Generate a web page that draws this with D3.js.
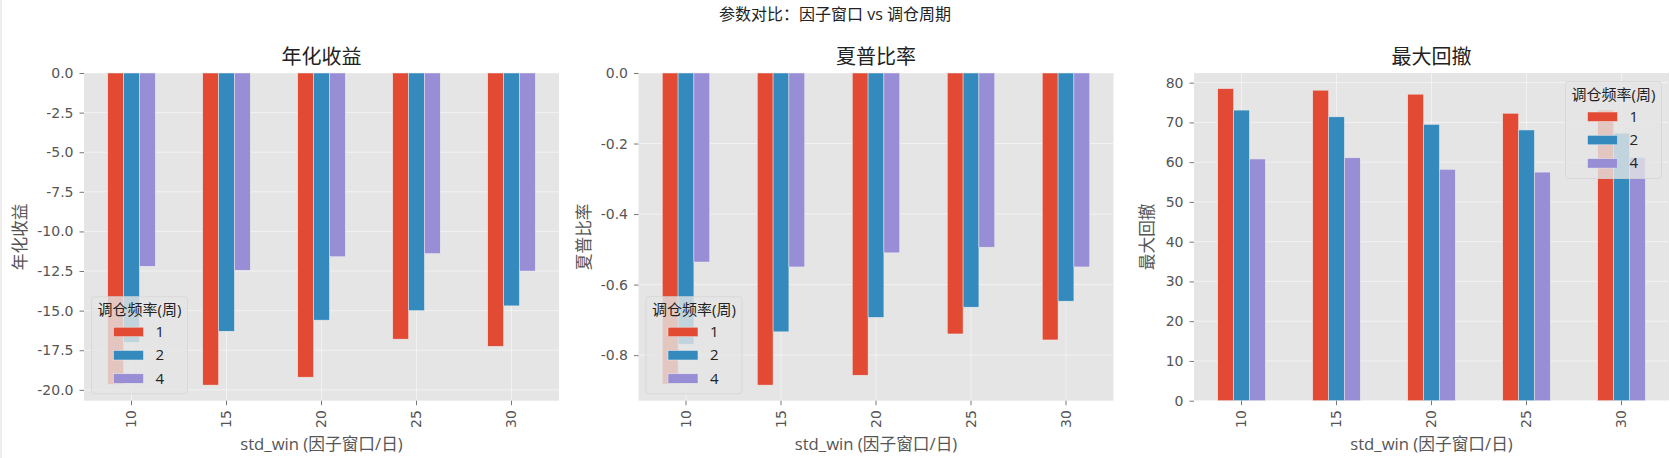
<!DOCTYPE html>
<html>
  <head>
    <meta charset="utf-8">
    <title>参数对比：因子窗口 vs 调仓周期</title>
    <script src="https://cdn.jsdelivr.net/npm/d3@7/dist/d3.min.js"></script>
    <style>
      html, body { margin: 0; padding: 0; background: #fff; }
      svg text { font-family: "Open Sans", "Noto Sans CJK SC", sans-serif; }
      .tick line { stroke: #555; stroke-width: 0.8; }
      .tick text { font-family: "DejaVu Sans", "Noto Sans CJK SC", sans-serif; }
      .domain { display: none; }
    </style>
  </head>
  <body>
  <div id="chart"></div>
  <script>
    // 横轴类别（因子窗口）与系列（调仓频率）
    var windows = ["10", "15", "20", "25", "30"];
    var freqs = ["1", "2", "4"];
    var colors = ["#E24A33", "#348ABD", "#988ED5"];

    // 各指标数值：每行一个调仓频率，对应 windows 的顺序
    var annualReturn = [
      [-19.65, -19.70, -19.20, -16.80, -17.25],
      [-17.00, -16.30, -15.60, -15.00, -14.70],
      [-12.20, -12.45, -11.60, -11.40, -12.50]
    ];
    var sharpe = [
      [-0.882, -0.885, -0.857, -0.740, -0.757],
      [-0.769, -0.734, -0.693, -0.664, -0.647],
      [-0.536, -0.550, -0.510, -0.494, -0.550]
    ];
    var maxDrawdown = [
      [78.5, 78.1, 77.1, 72.3, 73.1],
      [73.1, 71.4, 69.5, 68.1, 67.3],
      [60.8, 61.1, 58.2, 57.5, 61.2]
    ];

    // 纵轴刻度
    var returnTicks = [0, -2.5, -5, -7.5, -10, -12.5, -15, -17.5, -20];
    var sharpeTicks = [0, -0.2, -0.4, -0.6, -0.8];
    var drawdownTicks = [0, 10, 20, 30, 40, 50, 60, 70, 80];

    var W = 1670, H = 458;
    var plotTop = 73, plotBottom = 400.7, plotWidth = 475;
    var lefts = [84, 638.5, 1194];
    var ylabelOffsets = [64, 54, 47];

    var loc = d3.formatLocale({decimal: ".", thousands: ",", grouping: [3], currency: ["", ""], minus: "-"});

    var panels = [
      {title: "年化收益", ylabel: "年化收益", data: annualReturn, ticks: returnTicks, fmt: loc.format(".1f"), legend: "lower left"},
      {title: "夏普比率", ylabel: "夏普比率", data: sharpe, ticks: sharpeTicks, fmt: loc.format(".1f"), legend: "lower left"},
      {title: "最大回撤", ylabel: "最大回撤", data: maxDrawdown, ticks: drawdownTicks, fmt: loc.format("d"), legend: "upper right"}
    ];

    var svg = d3.select("#chart")
                .append("svg")
                  .attr("width", W)
                  .attr("height", H);

    // 左侧细边框
    svg.append("line")
         .attr("x1", 1).attr("x2", 1)
         .attr("y1", 0).attr("y2", H)
         .attr("stroke", "#dddddd");

    svg.append("text")
         .attr("x", W / 2)
         .attr("y", 20)
         .attr("text-anchor", "middle")
         .style("font-size", "16px")
         .style("fill", "#222")
         .text("参数对比：因子窗口 vs 调仓周期");

    panels.forEach(function (p, pi) {
      var left = lefts[pi], right = left + plotWidth;
      var g = svg.append("g");

      var x = d3.scaleBand()
                .domain(windows)
                .range([left, right])
                .paddingInner(0.5)
                .paddingOuter(0.25);
      var xs = d3.scaleBand()
                 .domain(freqs)
                 .range([0, x.bandwidth()]);

      var all = d3.merge(p.data);
      var lo = Math.min(0, d3.min(all)), hi = Math.max(0, d3.max(all));
      var domain = lo < 0 ? [lo * 1.05, 0] : [0, hi * 1.05];
      var y = d3.scaleLinear().domain(domain).range([plotBottom, plotTop]);

      // 背景与网格
      g.append("rect")
         .attr("x", left).attr("y", plotTop)
         .attr("width", plotWidth).attr("height", plotBottom - plotTop)
         .attr("fill", "#E5E5E5");
      g.append("g")
         .selectAll("line")
         .data(p.ticks)
         .enter()
         .append("line")
           .attr("x1", left).attr("x2", right)
           .attr("y1", function (d) { return y(d); })
           .attr("y2", function (d) { return y(d); })
           .attr("stroke", "#ffffff")
           .attr("stroke-opacity", 0.5)
           .attr("stroke-width", 1);
      g.append("g")
         .selectAll("line")
         .data(windows)
         .enter()
         .append("line")
           .attr("x1", function (d) { return x(d) + x.bandwidth() / 2; })
           .attr("x2", function (d) { return x(d) + x.bandwidth() / 2; })
           .attr("y1", plotTop).attr("y2", plotBottom)
           .attr("stroke", "#ffffff")
           .attr("stroke-opacity", 0.5)
           .attr("stroke-width", 1);

      // 柱子
      freqs.forEach(function (f, fi) {
        g.append("g")
          .selectAll("rect")
          .data(p.data[fi])
          .enter()
          .append("rect")
            .attr("x", function (d, i) { return x(windows[i]) + xs(f); })
            .attr("width", xs.bandwidth())
            .attr("y", function (d) { return y(Math.max(0, d)); })
            .attr("height", function (d) { return Math.abs(y(d) - y(0)); })
            .attr("fill", colors[fi])
            .attr("stroke", "#EEEEEE")
            .attr("stroke-width", 0.5);
      });

      // 坐标轴
      var yAxis = g.append("g")
         .attr("transform", `translate(${left}, 0)`)
         .call(d3.axisLeft(y).tickValues(p.ticks).tickFormat(p.fmt).tickSize(4.5).tickPadding(6));
      yAxis.selectAll("text").style("font-size", "14px").style("fill", "#555");

      var xAxis = g.append("g")
         .attr("transform", `translate(0, ${plotBottom})`)
         .call(d3.axisBottom(x).tickSize(4.5).tickPadding(3));
      xAxis.selectAll("text")
           .attr("transform", "rotate(-90)")
           .attr("x", -9.5)
           .attr("y", 0)
           .attr("dy", "0.35em")
           .attr("text-anchor", "end")
           .style("font-size", "14px")
           .style("fill", "#555");

      g.append("text")
         .attr("x", (left + right) / 2)
         .attr("y", 64)
         .attr("text-anchor", "middle")
         .style("font-size", "20px")
         .style("fill", "#222")
         .text(p.title);
      g.append("text")
         .attr("x", (left + right) / 2)
         .attr("y", 450)
         .attr("text-anchor", "middle")
         .style("font-size", "16.7px")
         .style("fill", "#555")
         .text("std_win (因子窗口/日)");
      g.append("text")
         .attr("transform", `translate(${left - ylabelOffsets[pi]}, ${(plotTop + plotBottom) / 2}) rotate(-90)`)
         .attr("dy", "0.35em")
         .attr("text-anchor", "middle")
         .style("font-size", "16.7px")
         .style("fill", "#555")
         .text(p.ylabel);

      // 图例
      var lw = 96, lh = 97;
      var lx = p.legend === "upper right" ? right - 7.5 - lw : left + 7.5;
      var ly = p.legend === "upper right" ? plotTop + 8.5 : plotBottom - 7 - lh;
      var lg = g.append("g").attr("transform", `translate(${lx}, ${ly})`);
      lg.append("rect")
          .attr("width", lw).attr("height", lh)
          .attr("rx", 3)
          .attr("fill", "rgba(229,229,229,0.8)")
          .attr("stroke", "#d4d4d4")
          .attr("stroke-width", 0.8);
      lg.append("text")
          .attr("x", lw / 2).attr("y", 13)
          .attr("dy", "0.35em")
          .attr("text-anchor", "middle")
          .style("font-size", "15px")
          .style("fill", "#222")
          .text("调仓频率(周)");
      var entry = lg.selectAll("g.entry")
          .data(freqs)
          .enter()
          .append("g")
            .attr("class", "entry")
            .attr("transform", function (d, i) { return `translate(0, ${35 + i * 23.3})`; });
      entry.append("rect")
          .attr("x", 22).attr("y", -4.5)
          .attr("width", 30).attr("height", 9.5)
          .attr("fill", function (d, i) { return colors[i]; })
          .attr("stroke", "#EEEEEE")
          .attr("stroke-width", 0.5);
      entry.append("text")
          .attr("x", 64).attr("dy", "0.35em")
          .style("font-size", "15px")
          .style("fill", "#222")
          .text(function (d) { return d; });
    });
  </script>
  </body>
</html>
